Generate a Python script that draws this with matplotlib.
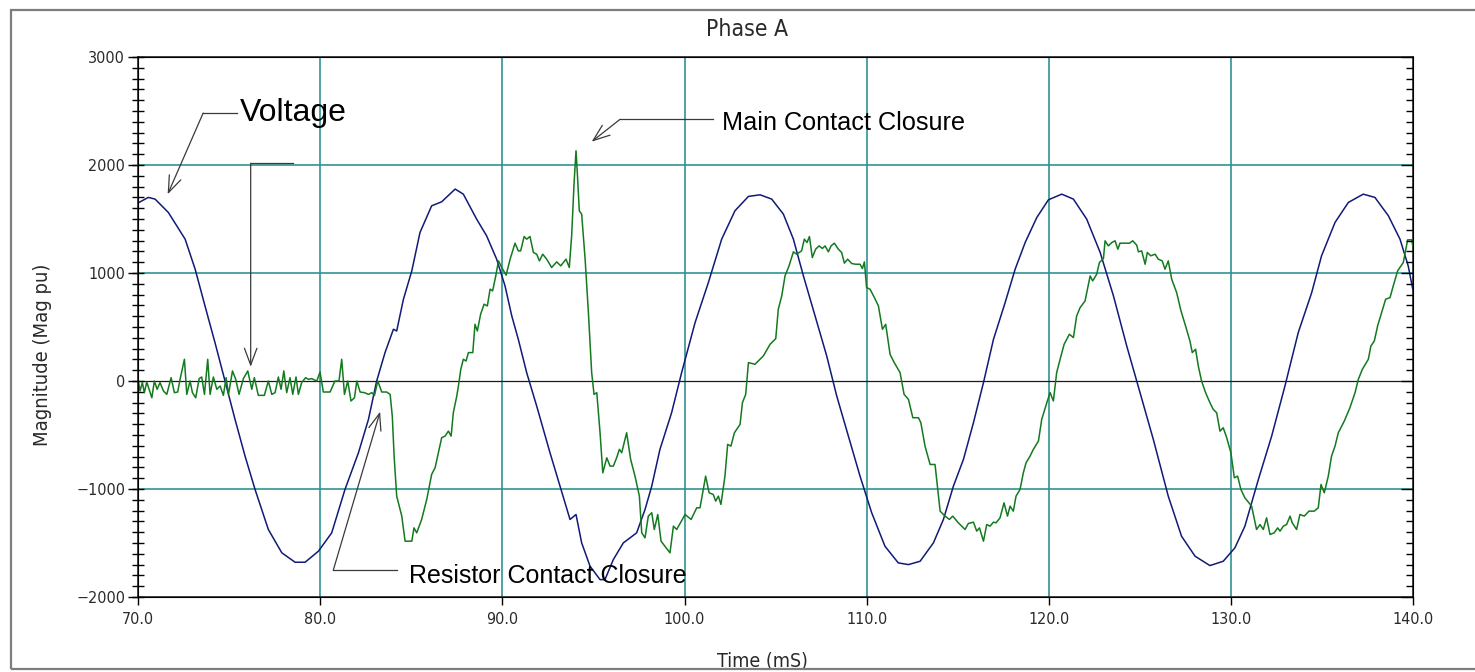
import matplotlib
matplotlib.use('Agg')
import matplotlib.pyplot as plt
from matplotlib.patches import Rectangle
from matplotlib.ticker import MultipleLocator

# Phase A closing record (time in mS)
volt_t = [70.0, 70.55, 70.92, 71.65, 72.57, 73.12, 73.66, 74.21, 74.76, 75.31,
          75.86, 76.41, 77.14, 77.88, 78.61, 79.16, 79.89, 80.62, 81.35, 82.09,
          82.64, 83.09, 83.55, 84.01, 84.19, 84.56, 85.02, 85.47, 86.11, 86.66,
          87.40, 87.85, 88.58, 89.13, 89.68, 90.14, 90.51, 90.87, 91.33, 91.88,
          92.61, 93.16, 93.71, 94.04, 94.35, 94.81, 95.36, 95.63, 96.09, 96.64,
          97.37, 97.83, 98.20, 98.65, 99.29, 99.84, 100.58, 101.31, 102.04, 102.77,
          103.51, 104.15, 104.79, 105.43, 105.98, 106.53, 107.17, 107.81, 108.36, 109.0,
          109.64, 110.28, 111.01, 111.74, 112.30, 112.94, 113.67, 114.22, 114.77, 115.32,
          115.87, 116.42, 116.97, 117.61, 118.16, 118.71, 119.35, 119.99, 120.72, 121.36,
          122.09, 122.83, 123.56, 124.29, 125.02, 125.75, 126.57, 127.30, 128.04, 128.86,
          129.59, 130.23, 130.78, 131.52, 132.25, 132.98, 133.71, 134.45, 134.99, 135.73,
          136.46, 137.28, 137.92, 138.66, 139.30, 139.75, 140.0]
volt_v = [1650, 1700, 1684, 1560, 1313, 1035, 695, 355, 0, -355,
          -695, -1004, -1375, -1591, -1678, -1678, -1576, -1406, -1004, -664,
          -355, 0, 263, 479, 463, 757, 1020, 1375, 1622, 1659,
          1777, 1730, 1499, 1344, 1128, 881, 603, 386, 77, -232,
          -664, -973, -1282, -1236, -1499, -1715, -1839, -1839, -1653, -1499,
          -1406, -1190, -973, -633, -294, 77, 541, 912, 1313, 1576,
          1709, 1724, 1684, 1545, 1313, 973, 603, 232, -139, -510,
          -881, -1220, -1530, -1684, -1700, -1669, -1499, -1282, -973, -726,
          -386, -15, 386, 726, 1035, 1282, 1514, 1678, 1730, 1684,
          1499, 1190, 788, 324, -108, -541, -1066, -1437, -1622, -1709,
          -1669, -1545, -1344, -912, -510, -46, 448, 819, 1159, 1468,
          1653, 1730, 1700, 1530, 1313, 1066, 850]

cur_t = [70.0, 70.09, 70.22, 70.33, 70.46, 70.59, 70.74, 70.88, 71.03, 71.19,
         71.38, 71.56, 71.80, 71.98, 72.16, 72.29, 72.53, 72.66, 72.84, 72.97,
         73.15, 73.34, 73.48, 73.63, 73.81, 73.94, 74.12, 74.31, 74.49, 74.67,
         74.82, 74.95, 75.17, 75.35, 75.53, 75.77, 76.01, 76.23, 76.37, 76.59,
         76.92, 77.14, 77.33, 77.51, 77.69, 77.84, 77.99, 78.15, 78.33, 78.48,
         78.66, 78.79, 78.97, 79.19, 79.34, 79.52, 79.80, 79.98, 80.16, 80.53,
         80.80, 81.02, 81.17, 81.32, 81.50, 81.68, 81.87, 82.00, 82.18, 82.42,
         82.64, 82.82, 82.97, 83.15, 83.37, 83.64, 83.83, 83.95, 84.05, 84.19,
         84.47, 84.65, 85.02, 85.14, 85.29, 85.56, 85.84, 86.11, 86.30, 86.48,
         86.66, 86.85, 87.03, 87.18, 87.30, 87.49, 87.58, 87.71, 87.85, 88.0,
         88.13, 88.37, 88.49, 88.62, 88.80, 88.99, 89.17, 89.32, 89.46, 89.65,
         89.78, 89.96, 90.20, 90.42, 90.69, 90.87, 91.0, 91.19, 91.33, 91.51,
         91.70, 91.88, 92.03, 92.21, 92.43, 92.70, 92.98, 93.20, 93.49, 93.67,
         93.80, 93.93, 94.04, 94.11, 94.22, 94.35, 94.54, 94.72, 94.90, 95.03,
         95.18, 95.36, 95.51, 95.73, 95.91, 96.09, 96.27, 96.42, 96.55, 96.82,
         97.04, 97.28, 97.52, 97.65, 97.83, 98.01, 98.20, 98.34, 98.53, 98.71,
         99.20, 99.39, 99.57, 100.03, 100.36, 100.67, 100.85, 101.16, 101.35, 101.58,
         101.71, 101.86, 102.0, 102.22, 102.37, 102.55, 102.74, 103.05, 103.18, 103.36,
         103.51, 103.87, 104.33, 104.70, 105.01, 105.15, 105.34, 105.52, 105.74, 105.98,
         106.16, 106.43, 106.58, 106.73, 106.86, 107.02, 107.20, 107.39, 107.57, 107.72,
         107.90, 108.05, 108.23, 108.45, 108.63, 108.78, 108.96, 109.18, 109.40, 109.64,
         109.77, 109.88, 110.0, 110.19, 110.43, 110.65, 110.87, 111.05, 111.29, 111.52,
         111.84, 112.06, 112.30, 112.54, 112.85, 112.98, 113.21, 113.49, 113.76, 114.04,
         114.31, 114.55, 114.73, 115.04, 115.41, 115.59, 115.87, 116.05, 116.20, 116.42,
         116.60, 116.78, 116.97, 117.11, 117.33, 117.55, 117.74, 117.88, 118.06, 118.21,
         118.43, 118.61, 118.76, 118.98, 119.16, 119.44, 119.62, 119.90, 120.08, 120.26,
         120.44, 120.63, 120.85, 121.14, 121.36, 121.54, 121.73, 122.0, 122.28, 122.42,
         122.64, 122.79, 123.01, 123.10, 123.28, 123.47, 123.65, 123.80, 123.92, 124.14,
         124.44, 124.62, 124.84, 124.93, 125.11, 125.30, 125.42, 125.61, 125.85, 126.02,
         126.24, 126.39, 126.57, 126.76, 127.03, 127.27, 127.52, 127.76, 127.89, 128.07,
         128.22, 128.40, 128.62, 128.86, 129.04, 129.23, 129.41, 129.59, 129.78, 130.01,
         130.20, 130.38, 130.56, 130.78, 131.15, 131.42, 131.61, 131.79, 131.97, 132.16,
         132.39, 132.58, 132.71, 132.89, 133.07, 133.26, 133.38, 133.62, 133.80, 134.04,
         134.30, 134.59, 134.81, 134.96, 135.14, 135.36, 135.54, 135.73, 135.91, 136.24,
         136.55, 136.83, 137.01, 137.23, 137.56, 137.70, 137.89, 138.07, 138.29, 138.51,
         138.75, 138.93, 139.17, 139.48, 139.72, 139.94, 140.0]
cur_v = [0, -93, -15, -108, -9, -77, -155, 0, -77, -15,
         -93, -124, 31, -108, -102, 15, 201, -124, 0, -108,
         -155, 22, 37, -124, 201, -124, 37, -77, -46, -133,
         31, -124, 93, 15, -124, 22, 93, -77, 31, -133,
         -133, 0, -124, -108, 37, -77, 93, -108, 31, -124,
         37, -124, -15, 31, 15, 22, 0, 83, -102, -102,
         0, 0, 201, -124, 0, -185, -155, 0, -102, -108,
         -124, -108, -133, 0, -102, -102, -124, -330, -700, -1066,
         -1251, -1483, -1483, -1360, -1406, -1282, -1097, -865, -803, -664,
         -525, -510, -464, -510, -294, -139, -46, 108, 201, 185,
         263, 263, 525, 463, 618, 711, 695, 850, 834, 989,
         1112, 1051, 980, 1128, 1276, 1205, 1205, 1338, 1313, 1338,
         1190, 1174, 1112, 1174, 1128, 1051, 1103, 1066, 1128, 1051,
         1344, 1823, 2132, 1931, 1576, 1545, 1128, 633, 77, -124,
         -108, -479, -850, -711, -788, -788, -711, -633, -664, -479,
         -726, -881, -1066, -1406, -1452, -1251, -1220, -1375, -1236, -1483,
         -1591, -1344, -1375, -1236, -1282, -1174, -1174, -881, -1035, -1051,
         -1112, -1066, -1143, -881, -587, -603, -479, -402, -201, -124,
         170, 155, 232, 340, 392, 664, 788, 973, 1066, 1196,
         1174, 1205, 1313, 1282, 1338, 1143, 1220, 1251, 1227, 1251,
         1196, 1251, 1276, 1220, 1190, 1091, 1128, 1088, 1081, 1081,
         1041, 1103, 865, 850, 772, 695, 479, 525, 247, 170,
         77, -124, -170, -340, -340, -386, -603, -773, -773, -1205,
         -1251, -1282, -1251, -1313, -1375, -1319, -1307, -1390, -1360, -1483,
         -1329, -1344, -1307, -1313, -1267, -1128, -1251, -1159, -1205, -1066,
         -1004, -850, -757, -695, -633, -556, -355, -201, -108, -185,
         77, 201, 340, 433, 402, 603, 680, 741, 973, 927,
         989, 1097, 1134, 1298, 1251, 1282, 1298, 1220, 1276, 1276,
         1276, 1298, 1257, 1196, 1205, 1081, 1190, 1159, 1174, 1128,
         1112, 1035, 1112, 942, 819, 649, 510, 371, 263, 294,
         139, 0, -108, -201, -263, -294, -464, -433, -525, -664,
         -896, -881, -1004, -1082, -1159, -1375, -1329, -1375, -1267, -1421,
         -1406, -1360, -1390, -1344, -1329, -1251, -1313, -1375, -1236, -1251,
         -1205, -1205, -1174, -958, -1035, -881, -695, -603, -479, -371,
         -247, -108, 15, 108, 201, 324, 371, 510, 633, 757,
         772, 881, 1020, 1097, 1307, 1307, 1251]

x_ticks = [70, 80, 90, 100, 110, 120, 130, 140]
x_tick_labels = ['70.0', '80.0', '90.0', '100.0', '110.0', '120.0', '130.0', '140.0']
y_ticks = [-2000, -1000, 0, 1000, 2000, 3000]
x_grid = [80, 90, 100, 110, 120, 130]
y_grid = [-1000, 1000, 2000]

assert len(volt_t) == len(volt_v) and len(cur_t) == len(cur_v)

# narrow plotter-style lettering for the axes texts
plt.rcParams['font.family'] = ['DejaVu Sans']
plt.rcParams['font.stretch'] = 'condensed'
label_col = '#2a2a2a'
grid_col = '#2f9393'

fig = plt.figure(figsize=(14.75, 6.72), dpi=100)
ax = fig.add_axes([0.0938, 0.1116, 0.864, 0.8036])

# outer frame of the report page
fig.patches.append(Rectangle((11 / 1475, 3 / 672), 1.0, 659 / 672, transform=fig.transFigure,
                             fill=False, edgecolor='#7d7d7d', linewidth=1.6))

for g in x_grid:
    ax.axvline(g, color=grid_col, lw=1.2, zorder=1)
for g in y_grid:
    ax.axhline(g, color=grid_col, lw=1.2, zorder=1)
ax.axhline(0, color='#1a1a1a', lw=0.9, zorder=1)

ax.plot(volt_t, volt_v, color='#101a78', lw=1.1, zorder=3)
ax.plot(cur_t, cur_v, color='#137a1f', lw=1.1, zorder=4)

ax.set_xlim(70, 140)
ax.set_ylim(-2000, 3000)
ax.set_xticks(x_ticks)
ax.set_xticklabels(x_tick_labels)
ax.set_yticks(y_ticks)
ax.yaxis.set_minor_locator(MultipleLocator(100))
ax.yaxis.remove_overlapping_locs = False
ax.tick_params(axis='x', direction='out', length=6, width=1, pad=5,
               labelsize=11.5, labelcolor=label_col)
ax.tick_params(axis='y', which='major', direction='out', length=7.5, width=1, pad=2,
               labelsize=11.5, labelcolor=label_col)
ax.tick_params(axis='y', which='minor', direction='inout', length=8, width=1)
for s in ax.spines.values():
    s.set_linewidth(1.1)
    s.set_color('#111111')

# right side ticks point inward
ax2 = ax.twinx()
ax2.set_ylim(-2000, 3000)
ax2.set_yticks(y_ticks)
ax2.yaxis.set_minor_locator(MultipleLocator(100))
ax2.tick_params(axis='y', which='major', direction='in', length=9, width=1, labelright=False)
ax2.tick_params(axis='y', which='minor', direction='in', length=5, width=1)

ax.set_title('Phase A', fontsize=16.5, color=label_col, x=0.478, y=1.024)
ax.set_xlabel('Time (mS)', fontsize=14, color=label_col)
ax.xaxis.set_label_coords(0.49, -0.1)
ax.set_ylabel('Magnitude (Mag pu)', fontsize=14.5, color=label_col)
ax.yaxis.set_label_coords(-0.068, 0.448)

# callouts: text, leader corner and arrow tip
note_font = ['Liberation Sans', 'DejaVu Sans']
lead = dict(color='#3a3a3a', lw=0.9, clip_on=False, zorder=5)
arrow = dict(arrowstyle='->,head_length=0.8,head_width=0.3', color='#3a3a3a', lw=0.9,
             shrinkA=0, shrinkB=0, mutation_scale=15)

ax.text(75.59, 2481, 'Voltage', fontsize=23, family=note_font, stretch='normal',
        va='center', ha='left', zorder=6)
ax.plot([73.56, 75.42], [2481, 2481], **lead)
ax.annotate('', xy=(71.61, 1729), xytext=(73.56, 2481), arrowprops=arrow)

ax.plot([76.17, 78.51], [2016, 2016], **lead)
ax.annotate('', xy=(76.17, 132), xytext=(76.17, 2016), arrowprops=arrow)

ax.text(102.05, 2389, 'Main Contact Closure', fontsize=18.2, family=note_font, stretch='normal',
        va='center', ha='left', zorder=6)
ax.plot([96.46, 101.57], [2423, 2423], **lead)
ax.annotate('', xy=(94.90, 2216), xytext=(96.46, 2423), arrowprops=arrow)

ax.text(84.87, -1805, 'Resistor Contact Closure', fontsize=18, family=note_font, stretch='normal',
        va='center', ha='left', zorder=6)
ax.plot([80.71, 84.19], [-1750, -1750], **lead)
ax.annotate('', xy=(83.28, -284), xytext=(80.71, -1750), arrowprops=arrow)

plt.savefig('out.png', dpi=100)
